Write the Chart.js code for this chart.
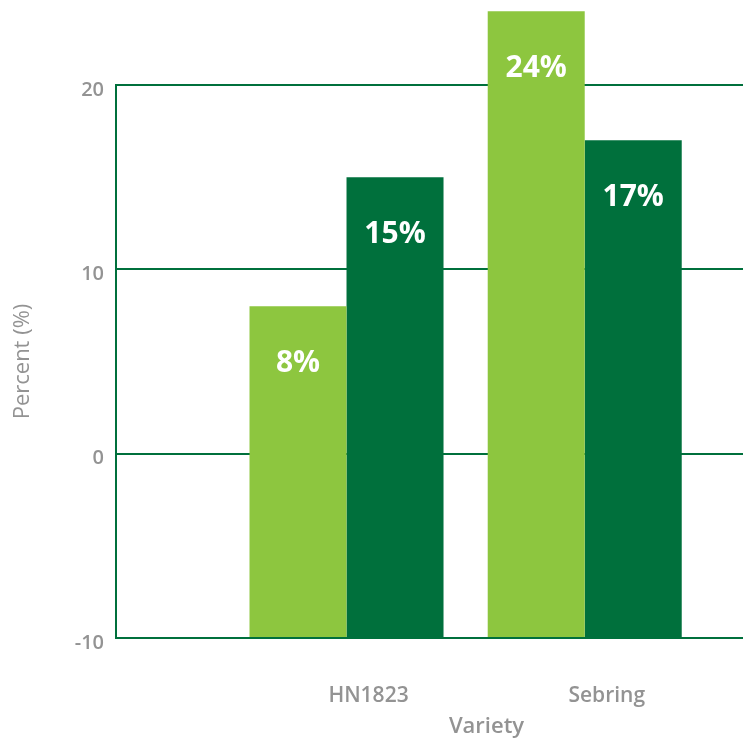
<!DOCTYPE html>
<html>
<head>
<meta charset="utf-8">
<script src="https://cdn.jsdelivr.net/npm/chart.js@4/dist/chart.umd.min.js"></script>
<style>
  html, body { margin: 0; padding: 0; background: #fff; }
  #wrap { width: 743px; height: 741px; overflow: hidden; }
</style>
</head>
<body>
<div id="wrap">
  <canvas id="chart" width="860" height="741"></canvas>
</div>
<script>
'use strict';

const categories = ['HN1823', 'Sebring'];
const lightValues = [8, 24];
const darkValues = [15, 17];
const yTicks = [-10, 0, 10, 20];

const LIGHT = '#8dc63f';
const DARK = '#00703c';
const GREY = '#939393';
const FONT = '"Open Sans", "Noto Sans", sans-serif';

// bar x positions are category index + 1 on a linear axis
const toPoints = values => values.map((v, i) => ({ x: i + 1, y: v }));

// white percent text inside the top of each bar
const barLabels = {
  id: 'barLabels',
  afterDatasetsDraw(chart) {
    const ctx = chart.ctx;
    ctx.save();
    ctx.font = 'bold 30px ' + FONT;
    ctx.fillStyle = '#ffffff';
    ctx.textAlign = 'center';
    ctx.textBaseline = 'middle';
    chart.data.datasets.forEach((ds, i) => {
      chart.getDatasetMeta(i).data.forEach((bar, j) => {
        ctx.fillText(ds.data[j].y + '%', bar.x, bar.y + 57);
      });
    });
    ctx.restore();
  }
};

const ctx = document.getElementById('chart').getContext('2d');
new Chart(ctx, {
  type: 'bar',
  data: {
    datasets: [{
      label: 'Series 1',
      data: toPoints(lightValues),
      backgroundColor: LIGHT,
      base: yTicks[0],
      clip: false
    }, {
      label: 'Series 2',
      data: toPoints(darkValues),
      backgroundColor: DARK,
      base: yTicks[0],
      clip: false
    }]
  },
  options: {
    responsive: false,
    animation: false,
    categoryPercentage: 0.8145,
    barPercentage: 1,
    layout: { padding: { top: 85, right: 3, left: 0, bottom: 0 } },
    plugins: {
      legend: { display: false },
      tooltip: { enabled: false }
    },
    scales: {
      x: {
        type: 'linear',
        offset: false,
        bounds: 'data',
        min: 0.0323,
        max: 3.143,
        afterBuildTicks: scale => {
          scale.ticks = categories.map((c, i) => ({ value: i + 1 }));
        },
        afterFit: scale => { scale.height = 103; },
        grid: { display: false, drawTicks: false, offset: false },
        border: { display: false },
        ticks: {
          callback: v => categories[v - 1],
          color: GREY,
          font: { family: FONT, size: 21, weight: 600 },
          padding: 45,
          labelOffset: 22,
          maxRotation: 0
        },
        title: {
          display: true,
          text: 'Variety',
          color: GREY,
          font: { family: FONT, size: 22, weight: 600 },
          padding: { top: 0, bottom: 1 }
        }
      },
      y: {
        min: yTicks[0],
        max: yTicks[yTicks.length - 1],
        afterBuildTicks: scale => {
          scale.ticks = yTicks.map(v => ({ value: v }));
        },
        afterFit: scale => { scale.width = 116; },
        grid: { color: DARK, lineWidth: 2, drawTicks: false },
        border: { color: DARK, width: 2 },
        ticks: {
          color: GREY,
          font: { family: FONT, size: 20, weight: 600 },
          padding: 12,
          labelOffset: 5
        },
        title: {
          display: true,
          text: 'Percent (%)',
          color: GREY,
          font: { family: FONT, size: 22, weight: 500 },
          padding: { top: 10, bottom: 0 }
        }
      }
    }
  },
  plugins: [barLabels]
});
</script>
</body>
</html>
